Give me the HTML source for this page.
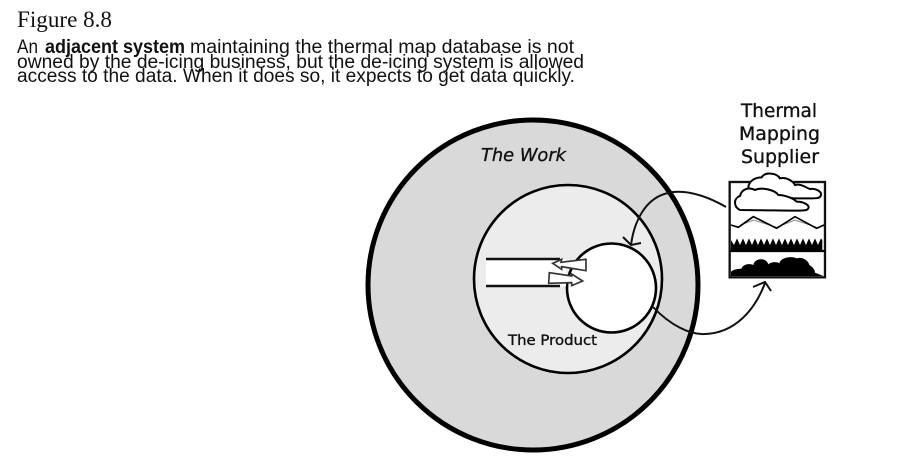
<!DOCTYPE html>
<html>
<head>
<meta charset="utf-8">
<title>Figure 8.8</title>
<style>
html,body{margin:0;padding:0;background:#fff;width:903px;height:468px;overflow:hidden}
svg{display:block}
.b{font-family:"Liberation Sans",sans-serif;font-size:19px;fill:#111}
.h{font-family:"DejaVu Sans",sans-serif;fill:#111;stroke:#111;stroke-width:0.35px}
</style>
</head>
<body>
<svg width="903" height="468" viewBox="0 0 903 468" xmlns="http://www.w3.org/2000/svg">
<text x="17" y="27" font-family="Liberation Serif, serif" font-size="23" fill="#111" textLength="95" lengthAdjust="spacingAndGlyphs">Figure 8.8</text>
<g>
<text class="b" x="17" y="53" textLength="21" lengthAdjust="spacingAndGlyphs">An</text>
<text class="b" x="45" y="53" font-weight="bold" textLength="140" lengthAdjust="spacingAndGlyphs">adjacent system</text>
<text class="b" x="190" y="53" textLength="384" lengthAdjust="spacingAndGlyphs">maintaining the thermal map database is not</text>
<text class="b" x="17" y="68" textLength="567" lengthAdjust="spacingAndGlyphs">owned by the de-icing business, but the de-icing system is allowed</text>
<text class="b" x="17" y="82" textLength="558" lengthAdjust="spacingAndGlyphs">access to the data. When it does so, it expects to get data quickly.</text>
</g>

<circle cx="533" cy="285" r="165" fill="#d9d9d9" stroke="#000" stroke-width="5"/>
<circle cx="568" cy="279" r="94" fill="#ececec" stroke="#000" stroke-width="2.6"/>
<circle cx="611.5" cy="288" r="44.5" fill="#fff" stroke="#000" stroke-width="2.6"/>

<g>
<rect x="486" y="259" width="80" height="27" fill="#fff"/>
<line x1="486" y1="259" x2="560" y2="259" stroke="#111" stroke-width="2.5"/>
<line x1="486" y1="286" x2="560" y2="286" stroke="#111" stroke-width="2.5"/>
</g>
<g transform="translate(460,220) scale(0.3333)">
<polygon points="278,130 305,118 303,127 378,118 378,152 305,140 305,148" fill="#fff" stroke="#333" stroke-width="5"/>
<polygon points="268,158 335,168 335,162 368,183 335,197 335,188 266,190" fill="#fff" stroke="#333" stroke-width="5"/>
</g>

<text class="h" x="481" y="161" font-size="18" font-style="italic" textLength="85" lengthAdjust="spacingAndGlyphs">The Work</text>
<text class="h" x="508" y="345" font-size="14" textLength="89" lengthAdjust="spacingAndGlyphs">The Product</text>
<text class="h" x="741" y="117" font-size="19" textLength="76" lengthAdjust="spacingAndGlyphs">Thermal</text>
<text class="h" x="739" y="140" font-size="19" textLength="81" lengthAdjust="spacingAndGlyphs">Mapping</text>
<text class="h" x="741" y="163" font-size="19" textLength="78" lengthAdjust="spacingAndGlyphs">Supplier</text>

<g transform="translate(620,90) scale(0.3333)">
<rect x="329" y="276" width="286" height="286" fill="#fff" stroke="#111" stroke-width="7"/>
<line x1="329" y1="483" x2="615" y2="483" stroke="#000" stroke-width="7"/>
<path d="M385 295C385 270 410 262 425 262C435 245 470 248 480 265C500 260 520 275 525 285C545 280 560 295 570 297C590 295 605 305 603 315C600 328 590 325 520 325L385 295Z" fill="#fff" stroke="#000" stroke-width="6"/>
<path d="M360 360C340 350 340 325 360 318C365 298 385 290 405 300C425 290 465 300 475 315C495 315 520 325 530 335C550 335 570 345 565 355C560 365 550 362 360 360Z" fill="#fff" stroke="#000" stroke-width="6"/>
<polyline points="370,402 400,390 470,412 525,390 590,412" fill="none" stroke="#888" stroke-width="3"/>
<polyline points="333,405 355,412 400,380 470,415 525,380 590,415 612,405" fill="none" stroke="#000" stroke-width="5"/>
<polygon points="333,480 333,450 342,465 351,445 360,465 369,445 378,465 387,445 396,465 405,445 414,465 423,445 432,465 441,445 450,465 459,445 468,465 477,445 486,465 495,445 504,465 513,445 522,465 531,445 540,465 549,445 558,465 567,445 576,465 585,445 594,465 603,445 607,450 607,480" fill="#000"/>
<path d="M333 558L333 545C345 535 358 538 365 535C370 522 390 520 400 525C402 505 438 500 445 523C455 515 470 515 478 520C482 500 520 498 530 505C545 500 565 510 568 525C578 530 585 540 585 548L610 558Z" fill="#000"/>
</g>

<g fill="none" stroke="#111" stroke-width="2">
<path d="M726 207C700 192 680 190 668 193C645 198 634 222 631 245"/>
<path d="M623 237L631 245L641 243"/>
<path d="M653 307C670 325 690 335 705 334C735 333 755 310 765 283"/>
<path d="M753 287L765 282L771 291"/>
</g>
</svg>
</body>
</html>
